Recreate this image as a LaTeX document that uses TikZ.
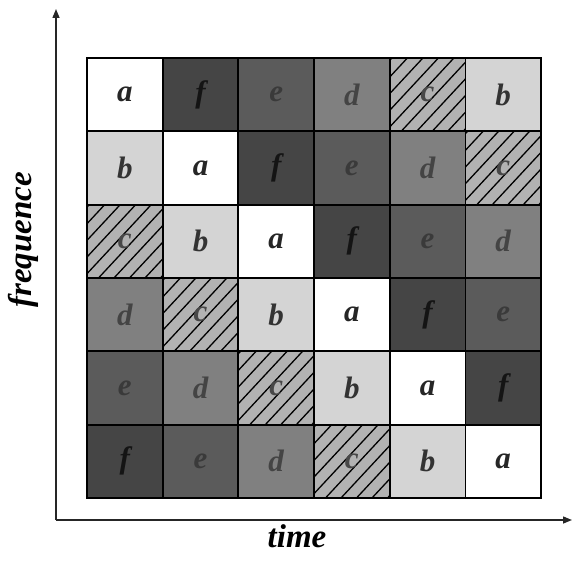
\documentclass[tikz,border=0pt]{standalone}
\usepackage{fontspec}
\setmainfont{Liberation Serif}
\usetikzlibrary{arrows.meta}
\definecolor{gb}{HTML}{D4D4D4}
\definecolor{gc}{HTML}{B2B2B2}
\definecolor{gd}{HTML}{808080}
\definecolor{ge}{HTML}{5B5B5B}
\definecolor{gf}{HTML}{454545}
\definecolor{tc}{HTML}{484848}
\definecolor{td}{HTML}{444444}
\definecolor{te}{HTML}{3A3A3A}
\begin{document}
\begin{tikzpicture}[x=1pt,y=1pt,
  cell/.style={draw=black,line width=1.7pt,minimum width=75.67pt,minimum height=73.33pt,inner sep=0pt,
    font=\fontsize{31}{31}\selectfont\bfseries\itshape},
  cella/.style={cell,fill=white,text=black!85},
  cellb/.style={cell,fill=gb,text=black!80},
  cellc/.style={cell,fill=gc,text=tc,
    path picture={\foreach \t in {-5,...,5}{
      \draw[line width=1.3pt,black] ([xshift=\t*15.5pt-4pt]path picture bounding box.south west) -- ++(80,86);}}},
  celld/.style={cell,fill=gd,text=td},
  celle/.style={cell,fill=ge,text=te},
  cellf/.style={cell,fill=gf,text=black!92},
  axis/.style={line width=1.4pt,draw=black!85,-{Triangle[length=9pt,width=7pt]}},
  lbl/.style={font=\fontsize{33}{33}\selectfont\bfseries\itshape,inner sep=0pt}
]
\useasboundingbox (0,0) rectangle (572,562);
\foreach \i in {0,...,5}{\foreach \j in {0,...,5}{
  \pgfmathtruncatemacro{\k}{mod(\j-\i+6,6)}
  \pgfmathsetmacro{\L}{{"a","f","e","d","c","b"}[\k]}
  \node[cell\L] (c\i\j) at ({87+75.67*(\j+0.5)},{504-73.33*(\i+0.5)}) {\L};
}}
\coordinate (o) at (56,42);
\coordinate (ytip) at (56,553);
\coordinate (xtip) at (572,42);
\draw[axis] (o) -- (ytip);
\draw[axis] (o) -- (xtip);
\node[lbl,anchor=base] (time) at (297,15) {time};
\node[lbl,rotate=90] (freq) at (23,322) {frequence};
\end{tikzpicture}
\end{document}
